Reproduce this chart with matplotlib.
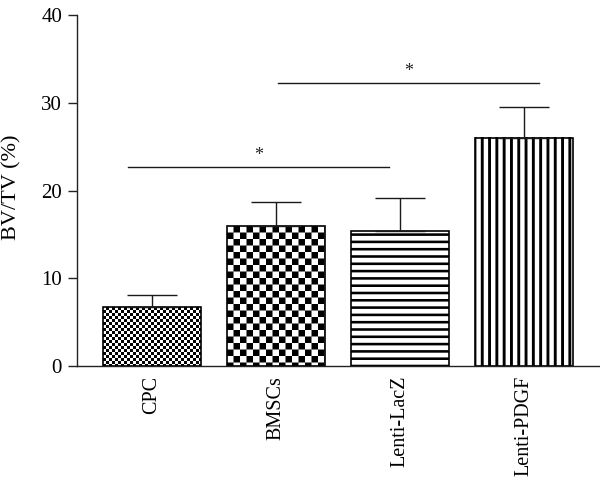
import numpy as np
import matplotlib
matplotlib.use("Agg")
import matplotlib.pyplot as plt

# ---- data ----
categories = ["CPC", "BMSCs", "Lenti-LacZ", "Lenti-PDGF"]
means = [6.7, 15.9, 15.35, 26.0]
errors = [1.4, 2.8, 3.8, 3.5]
yticks = [0, 10, 20, 30, 40]
ylabel = "BV/TV (%)"
# significance brackets: (start x, end x, level) in data units, label
brackets = [(-0.19, 1.91, 22.7), (1.02, 3.12, 32.3)]
bracket_labels = ["*", "*"]

# ---- style ----
patterns = ["fine", "coarse", "hstripe", "vstripe"]
bar_width = 0.79
plt.rcParams["font.family"] = ["Liberation Serif", "DejaVu Serif"]

fig = plt.figure(figsize=(6.0, 4.82), dpi=100)
ax = fig.add_axes([77 / 600, (482 - 366) / 482, (600 - 77) / 600, (366 - 15) / 482])
xlim = (-0.605, 3.613)
ylim = (0, 40)
ax.set_xlim(*xlim)
ax.set_ylim(*ylim)

x = np.arange(len(categories))


def stripe_cov(n, period, thick, offset=0.0):
    """Fraction of each pixel covered by stripes [k*period, k*period+thick]."""
    t = np.arange(n) + offset

    def F(s):
        return np.floor(s / period) * thick + np.minimum(np.mod(s, period), thick)

    return F(t + 1) - F(t)


def texture(kind, wpx, hpx):
    if kind in ("fine", "coarse"):
        cell = 3.0 if kind == "fine" else 6.5
        cx = stripe_cov(wpx, 2 * cell, cell)[None, :]
        cy = stripe_cov(hpx, 2 * cell, cell)[:, None]
        black = cx * (1 - cy) + (1 - cx) * cy
        return 1 - black
    if kind == "hstripe":
        cy = stripe_cov(hpx, 7.3, 2.6, offset=5.0)[:, None]
        return 1 - np.repeat(cy, wpx, axis=1)
    if kind == "vstripe":
        cx = stripe_cov(wpx, 7.3, 2.9, offset=1.5)[None, :]
        return 1 - np.repeat(cx, hpx, axis=0)
    return np.ones((hpx, wpx))


for xi, v, kind in zip(x, means, patterns):
    x0, x1 = xi - bar_width / 2, xi + bar_width / 2
    p0 = ax.transData.transform((x0, 0))
    p1 = ax.transData.transform((x1, v))
    wpx = max(1, int(round(abs(p1[0] - p0[0]))))
    hpx = max(1, int(round(abs(p1[1] - p0[1]))))
    ax.imshow(texture(kind, wpx, hpx), extent=(x0, x1, 0, v), origin="upper",
              cmap="gray", vmin=0, vmax=1, interpolation="nearest",
              aspect="auto", zorder=1)

ax.bar(x, means, width=bar_width, facecolor="none", edgecolor="black",
       linewidth=1.2, zorder=2)
ax.errorbar(x, means, yerr=[np.zeros(len(errors)), errors], fmt="none",
            ecolor="#1a1a1a", elinewidth=1.0, capsize=18, capthick=1.0, zorder=3)

for (xs, xe, lev), lab in zip(brackets, bracket_labels):
    ax.plot([xs, xe], [lev, lev], color="#1a1a1a", linewidth=1.0, zorder=3)
    ax.annotate(lab, xy=((xs + xe) / 2, lev), xytext=(0, 2), textcoords="offset points",
                ha="center", va="bottom", fontsize=13, color="#222222")

ax.set_xlim(*xlim)
ax.set_ylim(*ylim)

ax.spines["top"].set_visible(False)
ax.spines["right"].set_visible(False)
for s in ("left", "bottom"):
    ax.spines[s].set_linewidth(1.0)
    ax.spines[s].set_color("#222222")

ax.set_yticks(yticks)
ax.set_yticklabels([str(t) for t in yticks])
ax.tick_params(axis="y", length=6.8, width=1.0, pad=4, labelsize=15, color="#222222")
ax.set_xticks(x)
ax.set_xticklabels(categories, rotation=90, ha="center", va="top")
ax.tick_params(axis="x", length=0, pad=7, labelsize=14.5)

ax.set_ylabel(ylabel, fontsize=16)
ax.yaxis.set_label_coords(-0.106, 0.51)

fig.savefig("out.png", dpi=100)
